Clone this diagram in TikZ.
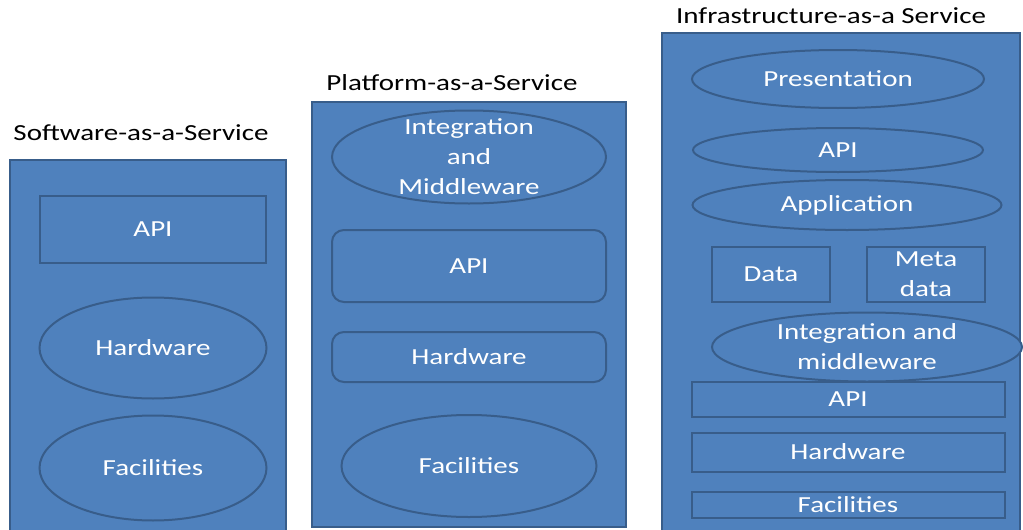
\documentclass[tikz,border=0pt]{standalone}
\usepackage{fontspec}
\setmainfont{Carlito}[FakeStretch=1.26]
\usetikzlibrary{shapes.geometric}
\definecolor{layerfill}{HTML}{4F81BD}
\definecolor{layeredge}{HTML}{385D8A}
\tikzset{
  panel/.style={draw=layeredge, fill=layerfill, line width=1.5pt},
  layerbox/.style={rectangle, draw=layeredge, fill=layerfill, line width=2pt,
    inner sep=0pt, outer sep=0pt},
  roundbox/.style={layerbox, rounded corners=12pt},
  oval/.style={ellipse, draw=layeredge, fill=layerfill, line width=2pt,
    inner sep=0pt, outer sep=0pt},
  lbl/.style={text=white, align=center, inner sep=0pt,
    font=\fontsize{23}{30}\selectfont},
  ttl/.style={text=black, inner sep=0pt, font=\fontsize{23}{30}\selectfont},
}
\begin{document}
\begin{tikzpicture}[x=1pt, y=-1pt]
\useasboundingbox (0,0) rectangle (1023,530);
\clip (0,0) rectangle (1023,530);

% ---------- Software-as-a-Service ----------
\node[ttl] (saasT) at (141,133) {Software-as-a-Service};
\draw[panel] (10,160) rectangle (286,545);
\node[layerbox, minimum width=226pt, minimum height=67pt] (saasApi) at (153,229) {};
\node[lbl] at (saasApi.center) {API};
\node[oval, minimum width=227pt, minimum height=101pt] (saasHw) at (153,348) {};
\node[lbl] at (saasHw.center) {Hardware};
\node[oval, minimum width=227pt, minimum height=105pt] (saasFac) at (153,468) {};
\node[lbl] at (saasFac.center) {Facilities};

% ---------- Platform-as-a-Service ----------
\node[ttl] (paasT) at (452,83) {Platform-as-a-Service};
\draw[panel] (312,102) rectangle (626,527);
\node[oval, minimum width=274pt, minimum height=93pt] (paasInt) at (469,157) {};
\node[lbl] at (paasInt.center) {Integration\\and\\Middleware};
\node[roundbox, minimum width=274pt, minimum height=72pt] (paasApi) at (469,266) {};
\node[lbl] at (paasApi.center) {API};
\node[roundbox, minimum width=274pt, minimum height=50pt] (paasHw) at (469,357) {};
\node[lbl] at (paasHw.center) {Hardware};
\node[oval, minimum width=255pt, minimum height=102pt] (paasFac) at (469,466) {};
\node[lbl] at (paasFac.center) {Facilities};

% ---------- Infrastructure-as-a Service ----------
\node[ttl] (iaasT) at (831,16) {Infrastructure-as-a Service};
\draw[panel] (662,33) rectangle (1020,545);
\node[oval, minimum width=292pt, minimum height=58pt] (iaasPres) at (838,79) {};
\node[lbl] at (iaasPres.center) {Presentation};
\node[oval, minimum width=290pt, minimum height=44pt] (iaasApiO) at (838,150) {};
\node[lbl] at (iaasApiO.center) {API};
\node[oval, minimum width=309pt, minimum height=50pt] (iaasApp) at (847,205) {};
\node[lbl] at (iaasApp.center) {Application};
\node[layerbox, minimum width=118pt, minimum height=55pt] (iaasData) at (771,274) {};
\node[lbl] at (iaasData.center) {Data};
\node[layerbox, minimum width=118pt, minimum height=55pt] (iaasMeta) at (926,274) {};
\node[lbl] at (iaasMeta.center) {Meta\\data};
\node[oval, minimum width=310pt, minimum height=69pt] (iaasInt) at (867,347) {};
\node[lbl] at (iaasInt.center) {Integration and\\middleware};
\node[layerbox, minimum width=313pt, minimum height=35pt] (iaasApi) at (848,399) {};
\node[lbl] at (iaasApi.center) {API};
\node[layerbox, minimum width=313pt, minimum height=39pt] (iaasHw) at (848,452) {};
\node[lbl] at (iaasHw.center) {Hardware};
\node[layerbox, minimum width=313pt, minimum height=26pt] (iaasFac) at (848,505) {};
\node[lbl] at (iaasFac.center) {Facilities};
\end{tikzpicture}
\end{document}
